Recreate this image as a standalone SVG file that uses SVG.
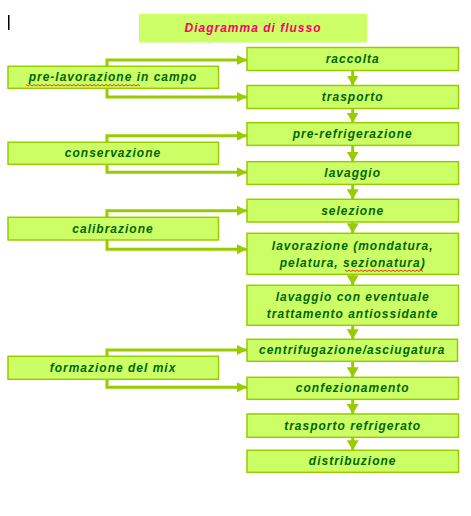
<svg xmlns="http://www.w3.org/2000/svg" width="471" height="516" viewBox="0 0 471 516">
<style>
  .box { fill: #CCFF66; stroke: #99CC00; stroke-width: 1.5; }
  .title { fill: #CCFF66; }
  .t { font-family: "Liberation Sans", Arial, sans-serif; font-style: italic; font-weight: bold; font-size: 12px; letter-spacing: 1px; fill: #006600; text-anchor: middle; }
  .tt { font-family: "Liberation Sans", Arial, sans-serif; font-style: italic; font-weight: bold; font-size: 12px; letter-spacing: 1px; fill: #FF0066; text-anchor: middle; }
  .c { fill: none; stroke: #99CC00; stroke-width: 3; }
  .wave { fill: none; stroke: #FF0000; stroke-width: 0.8; }
</style>
<defs>
  <marker id="ah" markerUnits="userSpaceOnUse" markerWidth="10" markerHeight="10" refX="10" refY="5" orient="auto">
    <path d="M0,0 L10,5 L0,10 z" fill="#99CC00"/>
  </marker>
  <marker id="av" markerUnits="userSpaceOnUse" markerWidth="10" markerHeight="12" refX="10" refY="6" orient="auto">
    <path d="M0,0 L10,6 L0,12 z" fill="#99CC00"/>
  </marker>
</defs>
<rect x="8" y="15" width="1.5" height="15" fill="#000"/>
<g id="title">
  <rect class="title" x="139" y="14" width="228" height="28.5"/>
  <text class="tt" x="253" y="31.5">Diagramma di flusso</text>
</g>
<g id="connectors">
  <path class="c" d="M107,66.3 V60 H247" marker-end="url(#ah)"/>
  <path class="c" d="M107,88.3 V97 H247" marker-end="url(#ah)"/>
  <path class="c" d="M107,142.3 V135.7 H247" marker-end="url(#ah)"/>
  <path class="c" d="M107,164.3 V172.3 H247" marker-end="url(#ah)"/>
  <path class="c" d="M107,217.3 V210.7 H247" marker-end="url(#ah)"/>
  <path class="c" d="M107,240 V249.3 H247" marker-end="url(#ah)"/>
  <path class="c" d="M107,356.3 V350 H247" marker-end="url(#ah)"/>
  <path class="c" d="M107,379.3 V387.3 H247" marker-end="url(#ah)"/>
  <path class="c" d="M352.7,70.5 V85.5" marker-end="url(#av)"/>
  <path class="c" d="M352.7,108.5 V122.7" marker-end="url(#av)"/>
  <path class="c" d="M352.7,145.4 V161.7" marker-end="url(#av)"/>
  <path class="c" d="M352.7,184.4 V199.3" marker-end="url(#av)"/>
  <path class="c" d="M352.7,222 V233.3" marker-end="url(#av)"/>
  <path class="c" d="M352.7,274.3 V285.3" marker-end="url(#av)"/>
  <path class="c" d="M352.7,325.3 V339.3" marker-end="url(#av)"/>
  <path class="c" d="M352.7,361.3 V377.3" marker-end="url(#av)"/>
  <path class="c" d="M352.7,399.3 V414" marker-end="url(#av)"/>
  <path class="c" d="M352.7,437.3 V450.3" marker-end="url(#av)"/>
</g>
<g id="raccolta"><rect class="box" x="247" y="47.5" width="211.5" height="23"/><text class="t" x="352.7" y="63">raccolta</text></g>
<g id="trasporto"><rect class="box" x="247" y="85.5" width="211.5" height="23"/><text class="t" x="352.7" y="101">trasporto</text></g>
<g id="pre-refrigerazione"><rect class="box" x="247" y="122.7" width="211.5" height="22.7"/><text class="t" x="352.7" y="138">pre-refrigerazione</text></g>
<g id="lavaggio"><rect class="box" x="247" y="161.7" width="211.5" height="22.7"/><text class="t" x="352.7" y="177">lavaggio</text></g>
<g id="selezione"><rect class="box" x="247" y="199.3" width="211.5" height="22.7"/><text class="t" x="352.7" y="214.7">selezione</text></g>
<g id="lavorazione"><rect class="box" x="247" y="233.3" width="211.5" height="41"/><text class="t" x="352.7" y="250">lavorazione (mondatura,</text><text class="t" x="352.7" y="266.7">pelatura, sezionatura)</text>
  <path class="wave" d="M345,270 l2,1.5 l2,-1.5 l2,1.5 l2,-1.5 l2,1.5 l2,-1.5 l2,1.5 l2,-1.5 l2,1.5 l2,-1.5 l2,1.5 l2,-1.5 l2,1.5 l2,-1.5 l2,1.5 l2,-1.5 l2,1.5 l2,-1.5 l2,1.5 l2,-1.5 l2,1.5 l2,-1.5 l2,1.5 l2,-1.5 l2,1.5 l2,-1.5 l2,1.5 l2,-1.5 l2,1.5 l2,-1.5 l2,1.5 l2,-1.5 l2,1.5 l2,-1.5 l2,1.5 l2,-1.5 l2,1.5 l2,-1.5 l2,1.5"/></g>
<g id="lavaggio-antiossidante"><rect class="box" x="247" y="285.3" width="211.5" height="40"/><text class="t" x="352.7" y="300.8">lavaggio con eventuale</text><text class="t" x="352.7" y="318.4">trattamento antiossidante</text></g>
<g id="centrifugazione"><rect class="box" x="247" y="339.3" width="210.5" height="22"/><text class="t" x="352.2" y="354.3">centrifugazione/asciugatura</text></g>
<g id="confezionamento"><rect class="box" x="247" y="377.3" width="211.5" height="22"/><text class="t" x="352.7" y="392.3">confezionamento</text></g>
<g id="trasporto-refrigerato"><rect class="box" x="247" y="414" width="211.5" height="23.3"/><text class="t" x="352.7" y="429.7">trasporto refrigerato</text></g>
<g id="distribuzione"><rect class="box" x="247" y="450.3" width="211.5" height="22"/><text class="t" x="352.7" y="465.3">distribuzione</text></g>
<g id="pre-lavorazione"><rect class="box" x="8" y="66.3" width="210.5" height="22"/><text class="t" x="113" y="81.3">pre-lavorazione in campo</text>
  <path class="wave" d="M26,84.5 l2,1.5 l2,-1.5 l2,1.5 l2,-1.5 l2,1.5 l2,-1.5 l2,1.5 l2,-1.5 l2,1.5 l2,-1.5 l2,1.5 l2,-1.5 l2,1.5 l2,-1.5 l2,1.5 l2,-1.5 l2,1.5 l2,-1.5 l2,1.5 l2,-1.5 l2,1.5 l2,-1.5 l2,1.5 l2,-1.5 l2,1.5 l2,-1.5 l2,1.5 l2,-1.5 l2,1.5 l2,-1.5 l2,1.5 l2,-1.5 l2,1.5 l2,-1.5 l2,1.5 l2,-1.5 l2,1.5 l2,-1.5 l2,1.5 l2,-1.5 l2,1.5 l2,-1.5 l2,1.5 l2,-1.5 l2,1.5 l2,-1.5 l2,1.5 l2,-1.5 l2,1.5 l2,-1.5 l2,1.5 l2,-1.5 l2,1.5 l2,-1.5 l2,1.5 l2,-1.5 l2,1.5"/></g>
<g id="conservazione"><rect class="box" x="8" y="142.3" width="210.5" height="22"/><text class="t" x="113" y="157.3">conservazione</text></g>
<g id="calibrazione"><rect class="box" x="8" y="217.3" width="210.5" height="22.7"/><text class="t" x="113" y="232.7">calibrazione</text></g>
<g id="formazione-mix"><rect class="box" x="8" y="356.3" width="210.5" height="23"/><text class="t" x="113" y="371.8">formazione del mix</text></g>
</svg>
